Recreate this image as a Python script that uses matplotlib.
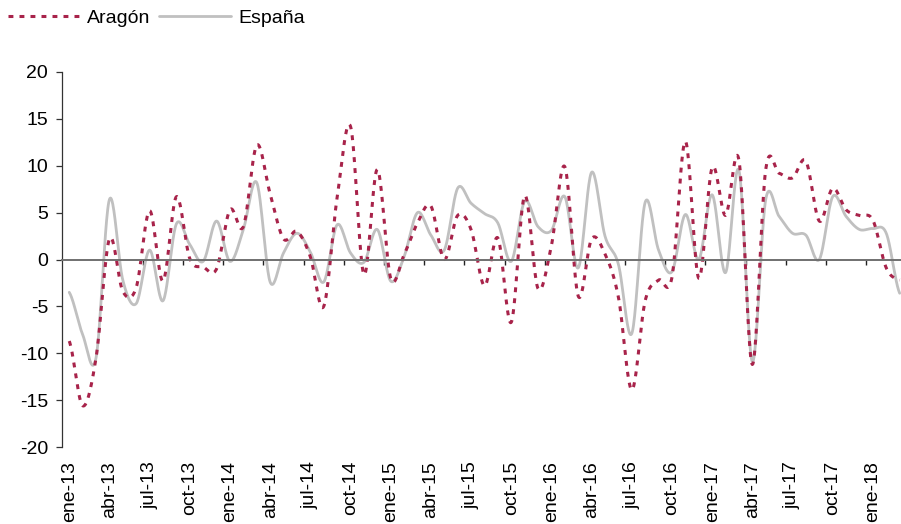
import numpy as np
import matplotlib
matplotlib.use('Agg')
import matplotlib.pyplot as plt

# monthly values, ene-13 .. mar-18
aragon = [-8.7, -15.6, -10.5, 2.2, -3.4, -3.0, 5.2, -2.3, 6.7, 0.1, -0.8, -1.0,
          5.3, 3.5, 12.2, 7.0, 2.2, 3.0, 0.3, -5.0, 6.6, 14.2, -1.6, 9.6,
          -2.0, 0.5, 3.9, 5.7, 0.0, 4.7, 3.2, -2.8, 2.3, -6.7, 6.8, -3.1,
          1.5, 9.9, -3.9, 2.2, 0.6, -4.0, -13.9, -4.4, -2.2, -1.9, 12.6, -2.0,
          9.8, 4.7, 10.6, -11.2, 9.6, 9.2, 8.7, 10.5, 4.1, 7.6, 5.3, 4.7,
          4.2, -0.9, -2.2]
espana = [-3.5, -8.0, -10.5, 6.4, -2.2, -4.7, 1.0, -4.4, 3.8, 1.6, -0.2, 4.1,
          -0.2, 3.2, 8.2, -2.4, 0.7, 2.8, 0.8, -2.4, 3.7, 0.7, -0.3, 3.2,
          -2.3, 0.3, 5.0, 2.6, 1.0, 7.6, 6.0, 4.9, 3.9, -0.2, 6.2, 3.5,
          3.1, 6.7, -0.9, 9.3, 2.5, -0.5, -7.9, 6.1, 1.0, -1.3, 4.8, 0.0,
          6.9, -1.4, 9.5, -10.9, 6.4, 4.6, 2.8, 2.6, 0.0, 6.7, 4.6, 3.2,
          3.3, 2.8, -3.6]
tick_labels = ['ene-13', 'abr-13', 'jul-13', 'oct-13', 'ene-14', 'abr-14', 'jul-14',
               'oct-14', 'ene-15', 'abr-15', 'jul-15', 'oct-15', 'ene-16', 'abr-16',
               'jul-16', 'oct-16', 'ene-17', 'abr-17', 'jul-17', 'oct-17', 'ene-18']

plt.rcParams['font.family'] = ['Liberation Sans', 'DejaVu Sans']
plt.rcParams['axes.unicode_minus'] = False
FS = 14


def smooth(x, y, n=24):
    # excel-like smoothed line (bezier through the points)
    x = np.asarray(x, float)
    y = np.asarray(y, float)
    px = np.concatenate([[2 * x[0] - x[1]], x, [2 * x[-1] - x[-2]]])
    py = np.concatenate([[y[0]], y, [y[-1]]])
    t = np.linspace(0, 1, n, endpoint=False)
    xs, ys = [], []
    for i in range(1, len(px) - 2):
        for p, out in ((px, xs), (py, ys)):
            p0, p1, p2, p3 = p[i - 1], p[i], p[i + 1], p[i + 2]
            c1 = p1 + (p2 - p0) / 6
            c2 = p2 - (p3 - p1) / 6
            out.extend((1 - t) ** 3 * p1 + 3 * (1 - t) ** 2 * t * c1
                       + 3 * (1 - t) * t ** 2 * c2 + t ** 3 * p2)
    xs.append(x[-1])
    ys.append(y[-1])
    return np.array(xs), np.array(ys)


fig = plt.figure(figsize=(9.01, 5.24), dpi=100)
ax = fig.add_axes([62 / 901, 1 - 447 / 524, 1 - 62 / 901, (447 - 72) / 524])

x = np.arange(len(aragon))
xe, ye = smooth(x, espana)
le, = ax.plot(xe, ye, color='#c0c0c0', lw=2.0, solid_capstyle='round')
xa, ya = smooth(x, aragon)
la, = ax.plot(xa, ya, color='#a8234a', lw=2.2, ls=(0, (1.6, 2.0)),
              dash_capstyle='butt')

ax.set_xlim(-0.54, 62.1)
ax.set_ylim(-20, 20)
ax.set_yticks(range(-20, 21, 5))
ax.set_yticklabels([str(v) for v in range(-20, 21, 5)])

for s in ['top', 'right']:
    ax.spines[s].set_visible(False)
ax.spines['left'].set_color('#333333')
ax.spines['left'].set_linewidth(0.9)
ax.spines['bottom'].set_position(('data', 0))
ax.spines['bottom'].set_color('#707070')
ax.spines['bottom'].set_linewidth(1.4)

ax.tick_params(axis='y', direction='out', length=4, width=0.9, color='#333333',
               labelsize=FS, pad=6)
ax.set_xticks([])
ax.set_xticks(np.arange(2.5, 61, 3), minor=True)
ax.tick_params(axis='x', which='minor', direction='out', length=3.8, width=1,
               color='#222222')

sec = ax.secondary_xaxis(0.0)
sec.set_xticks(np.arange(0, 61, 3), labels=tick_labels, rotation=90)
sec.tick_params(length=0, pad=10, labelsize=FS)
sec.spines['bottom'].set_visible(False)

fig.legend([la, le], ['Aragón', 'España'], loc='center left',
           bbox_to_anchor=(8 / 901, 1 - 18 / 524), ncol=2, frameon=False,
           fontsize=FS, handlelength=3.7, handletextpad=0.36, columnspacing=0.46,
           borderpad=0, borderaxespad=0)

fig.savefig('out.png', dpi=100)
